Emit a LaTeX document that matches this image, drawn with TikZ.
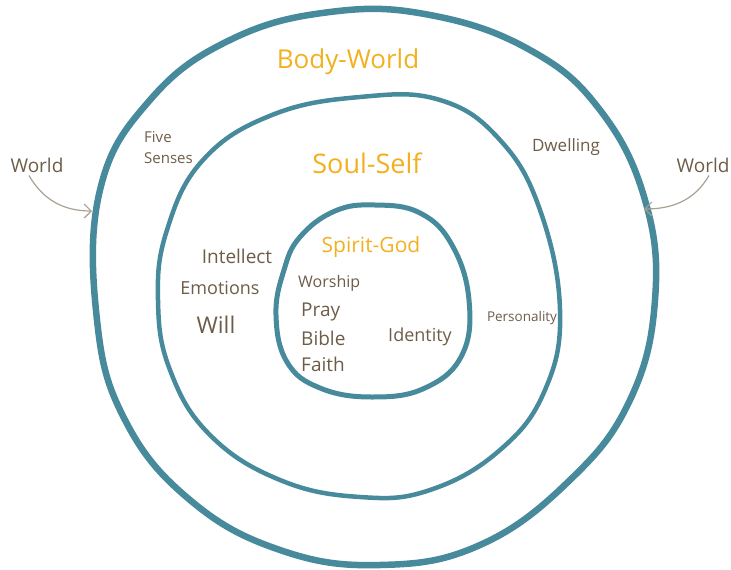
\documentclass[tikz,border=0pt]{standalone}
\usepackage{fontspec}
\setmainfont{Open Sans}
\usetikzlibrary{arrows.meta}
\definecolor{ring}{HTML}{468A9C}
\definecolor{ink}{HTML}{6E5C48}
\definecolor{gold}{HTML}{F2B01E}
\definecolor{pale}{HTML}{ABA092}
\tikzset{
 ring/.style={draw=ring,line cap=round,line join=round},
 word/.style={text=ink,inner sep=1pt,font=\fontsize{#1}{#1}\selectfont},
 title/.style={text=gold,inner sep=1pt,font=\fontsize{#1}{#1}\selectfont}
}
\begin{document}
\begin{tikzpicture}[x=1pt,y=-1pt]
 \useasboundingbox (0,0) rectangle (731,570);
 % outer ring
 \draw[ring,line width=6.5pt] plot[smooth cycle,tension=0.7] coordinates {(100,190) (150,100) (230,40) (330,12) (430,15) (530,50) (600,110) (645,200) (655,300) (630,400) (570,480) (480,545) (380,565) (280,550) (190,500) (125,420) (97,320)};
 % middle ring
 \draw[ring,line width=4.5pt] plot[smooth cycle,tension=0.7] coordinates {(167,230) (203,160) (272,115) (360,97) (440,100) (500,140) (540,210) (560,310) (545,390) (500,450) (430,490) (360,497) (280,480) (210,435) (170,370) (158,300)};
 % inner ring
 \draw[ring,line width=5pt] plot[smooth cycle,tension=0.7] coordinates {(300,237) (335,211) (375,205) (420,213) (452,245) (469,300) (462,355) (425,388) (372,397) (320,388) (287,362) (276,315) (284,270)};

 \node[title=26] (body) at (348,62) {Body-World};
 \node[title=27] (soul) at (367,163) {Soul-Self};
 \node[title=21] (spirit) at (371,247) {Spirit-God};

 \node[word=15,align=left,anchor=west] (senses) at (143,148) {Five\\[6pt]Senses};
 \node[word=17] (dwelling) at (566,147) {Dwelling};
 \node[word=19] (intellect) at (237,256) {Intellect};
 \node[word=18] (emotions) at (220,288) {Emotions};
 \node[word=23] (will) at (216,325) {Will};
 \node[word=16,anchor=west] (worship) at (297,283) {Worship};
 \node[word=19,anchor=west] (pray) at (300,312) {Pray};
 \node[word=19,anchor=west] (bible) at (300,338) {Bible};
 \node[word=19,anchor=west] (faith) at (300,364) {Faith};
 \node[word=18] (identity) at (420,337) {Identity};
 \node[word=13.5] (person) at (522,318) {Personality};

 \node[word=19] (worldL) at (37,165) {World};
 \node[word=19] (worldR) at (703,165) {World};
 \coordinate (hitL) at (92,211);
 \coordinate (hitR) at (644,209);
 \draw[pale,line width=1.2pt,-{Straight Barb[length=7pt]}] (worldL.south) ++(-8,2) to[out=-60,in=180] (hitL);
 \draw[pale,line width=1.2pt,-{Straight Barb[length=7pt]}] (worldR.south) ++(6,2) to[out=-120,in=0] (hitR);
\end{tikzpicture}
\end{document}
